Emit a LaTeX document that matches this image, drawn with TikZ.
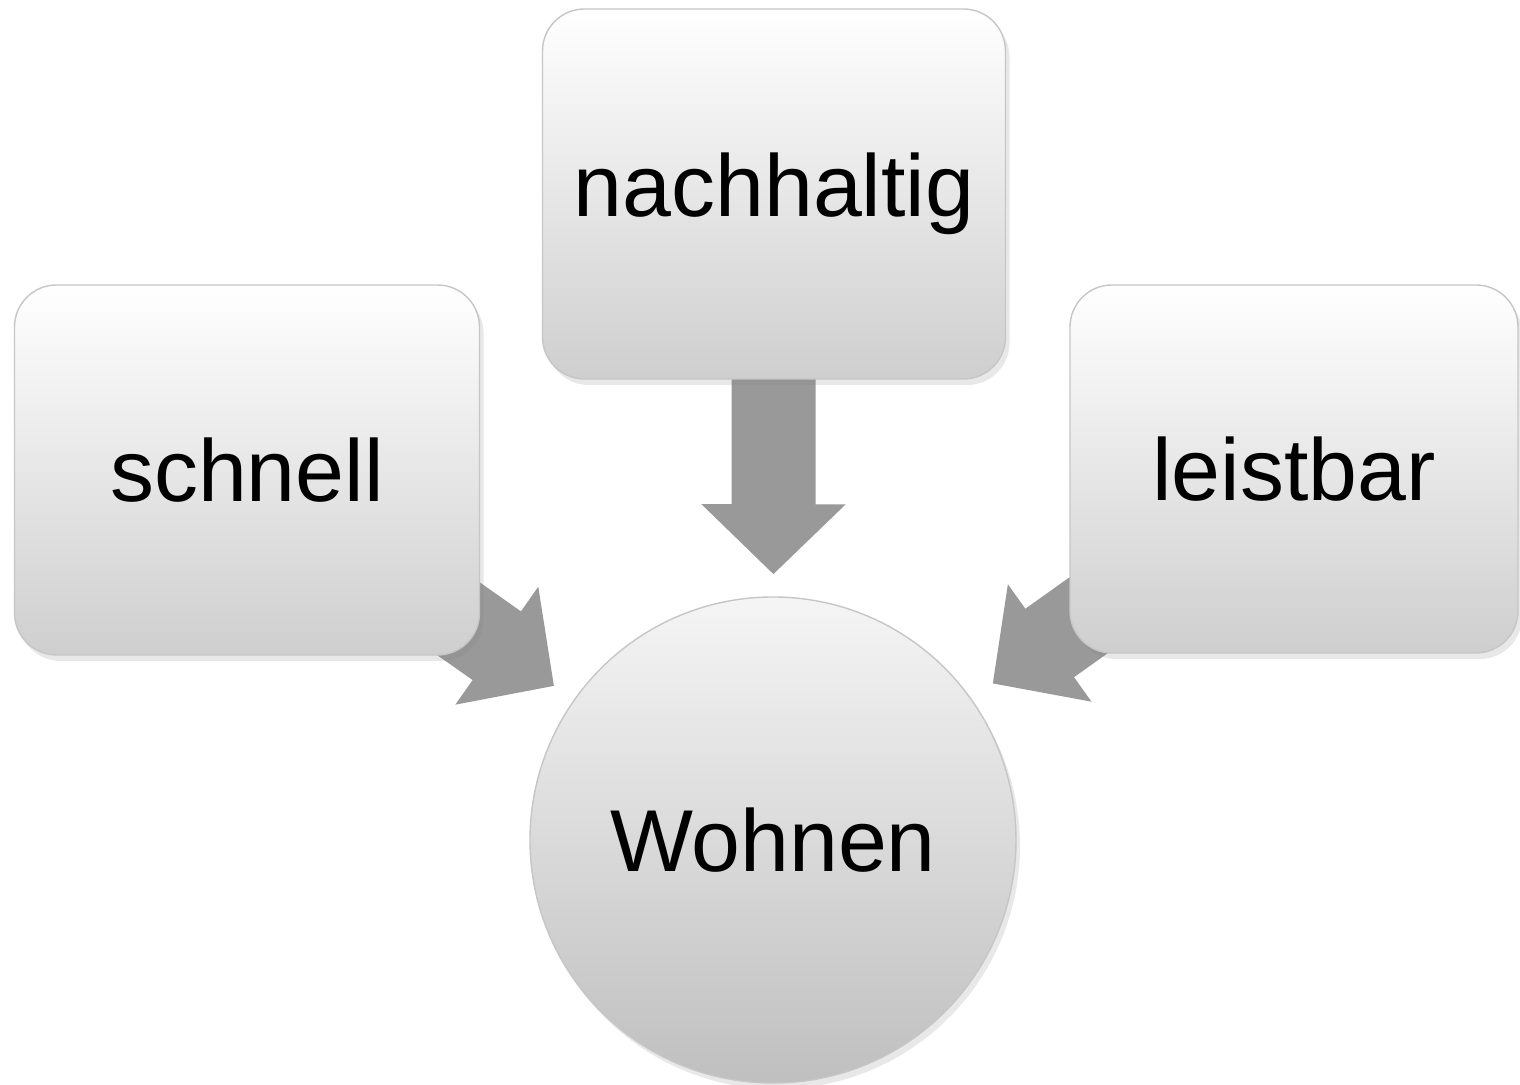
\documentclass[tikz,border=0pt]{standalone}
\usepackage{fontspec}
\setmainfont{Liberation Sans}
\usetikzlibrary{arrows.meta, shadows}
\pgfdeclarelayer{back}
\pgfsetlayers{back, main}

\begin{document}
\begin{tikzpicture}[
    box/.style = {rectangle, rounded corners = 0.42cm, draw = gray!45, line width = 0.4pt,
                  top color = white, bottom color = black!19, font = \fontsize{25}{30}\selectfont,
                  drop shadow = {opacity = 0.18, shadow xshift = 0.04cm, shadow yshift = -0.06cm}},
    hub/.style = {circle, draw = gray!45, line width = 0.4pt, minimum size = 4.86cm,
                  top color = black!4, bottom color = black!25, font = \fontsize{25}{30}\selectfont,
                  drop shadow = {opacity = 0.18, shadow xshift = 0.04cm, shadow yshift = -0.06cm}},
    fatarrow/.style = {line width = 0.84cm, color = black!40,
                       -{Triangle[width = 1.4cm, length = 0.7cm]}}]
\useasboundingbox (0, 0) rectangle (15.2, 10.85);
% nodes
\node [hub] (wohnen) at (7.73, 2.45) {Wohnen};
\node [box, minimum width = 4.65cm, minimum height = 3.70cm] (schnell) at (2.47, 6.15) {schnell};
\node [box, minimum width = 4.63cm, minimum height = 3.70cm] (nachhaltig) at (7.74, 8.91) {nachhaltig};
\node [box, minimum width = 4.48cm, minimum height = 3.68cm] (leistbar) at (12.94, 6.16) {leistbar};
% arrows (behind the boxes)
\begin{pgfonlayer}{back}
\draw [fatarrow, shorten > = 0.22cm] (nachhaltig.center) -- (wohnen);
\draw [fatarrow, shorten > = 0.24cm] (schnell.center) -- (wohnen);
\draw [fatarrow, shorten > = 0.26cm] (leistbar.center) -- (wohnen);
\end{pgfonlayer}
\end{tikzpicture}
\end{document}
